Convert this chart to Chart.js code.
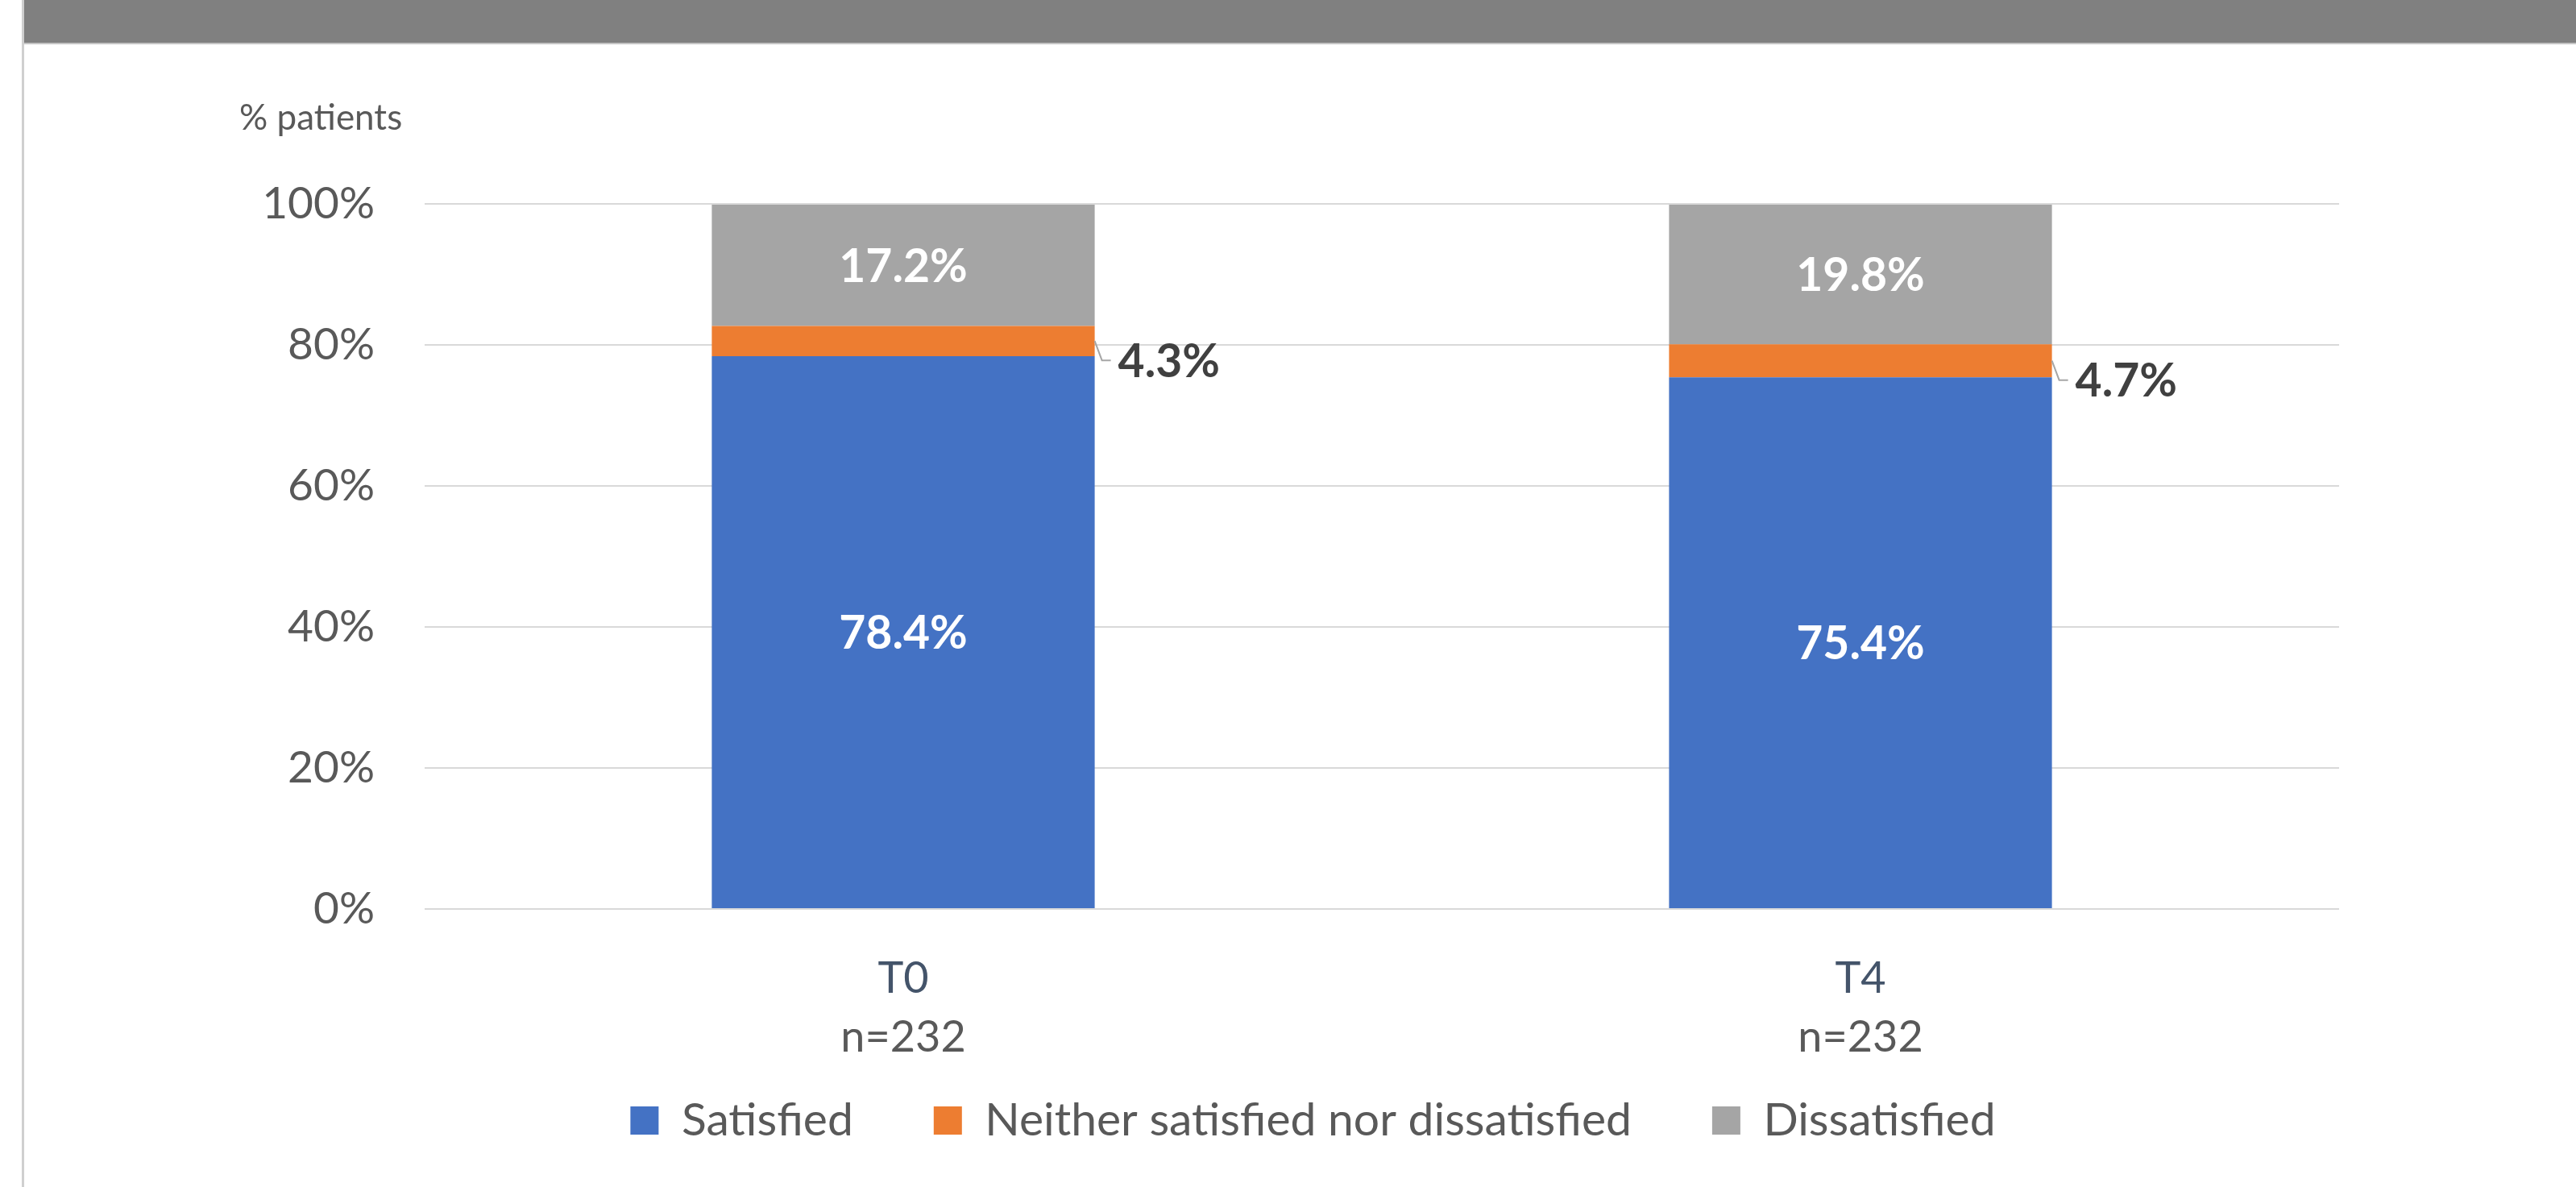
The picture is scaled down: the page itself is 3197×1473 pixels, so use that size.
<!DOCTYPE html>
<html>
<head>
<meta charset="utf-8">
<script src="https://cdn.jsdelivr.net/npm/chart.js@4.4.1/dist/chart.umd.min.js"></script>
<style>
  html, body { margin: 0; padding: 0; background: #ffffff; }
  #wrap { position: relative; width: 3197px; height: 1473px; }
  canvas { display: block; }
</style>
</head>
<body>
<div id="wrap"><canvas id="c" width="3197" height="1473"></canvas></div>
<script>
// ---- data ----
const categories = ['T0', 'T4'];
const sampleSizes = ['n=232', 'n=232'];
const seriesNames = ['Satisfied', 'Neither satisfied nor dissatisfied', 'Dissatisfied'];
const satisfied = [78.4, 75.4];
const neither = [4.3, 4.7];
const dissatisfied = [17.2, 19.8];
const yTickValues = [0, 20, 40, 60, 80, 100];
const yAxisLabel = '% patients';

const COLORS = ['#4472C4', '#ED7D31', '#A5A5A5'];
const FONT = 'Lato, "Open Sans", sans-serif';

const framePlugin = {
  id: 'frame',
  afterLayout(chart) {
    // Excel centres the legend on the whole chart box, shift it accordingly
    const lg = chart.legend;
    if (lg) { lg.left += 33; lg.right += 33; }
  },
  beforeDraw(chart) {
    const ctx = chart.ctx;
    ctx.save();
    ctx.fillStyle = '#ffffff';
    ctx.fillRect(0, 0, chart.width, chart.height);
    // top grey band
    ctx.fillStyle = '#808080';
    ctx.fillRect(30, 0, chart.width - 30, 53);
    ctx.fillStyle = '#c4c4c4';
    ctx.fillRect(30, 53, chart.width - 30, 2);
    // left border
    ctx.fillStyle = '#cfcfcf';
    ctx.fillRect(27, 0, 3, chart.height);
    ctx.restore();
  }
};

const labelPlugin = {
  id: 'labels',
  afterDatasetsDraw(chart) {
    const ctx = chart.ctx;
    ctx.save();
    ctx.font = 'bold 57px ' + FONT;
    chart.data.datasets.forEach((ds, di) => {
      const meta = chart.getDatasetMeta(di);
      meta.data.forEach((bar, i) => {
        const v = ds.data[i];
        const text = v.toFixed(1) + '%';
        const cy = (bar.y + bar.base) / 2;
        if (di === 1) {
          const right = bar.x + bar.width / 2;
          ctx.strokeStyle = '#a6a6a6';
          ctx.lineWidth = 2;
          ctx.beginPath();
          ctx.moveTo(right, cy);
          ctx.lineTo(right + 9, cy + 24);
          ctx.lineTo(right + 20, cy + 24);
          ctx.stroke();
          ctx.fillStyle = '#404040';
          ctx.textAlign = 'left';
          ctx.textBaseline = 'middle';
          ctx.fillText(text, right + 29, cy + 26);
        } else {
          ctx.fillStyle = '#ffffff';
          ctx.textAlign = 'center';
          ctx.textBaseline = 'middle';
          ctx.fillText(text, bar.x, cy + 2);
        }
      });
    });
    ctx.restore();
  },
  afterDraw(chart) {
    const ctx = chart.ctx;
    const xs = chart.scales.x;
    const area = chart.chartArea;
    ctx.save();
    // second line of category labels
    ctx.font = '54px ' + FONT;
    ctx.fillStyle = '#595959';
    ctx.textAlign = 'center';
    ctx.textBaseline = 'middle';
    sampleSizes.forEach((s, i) => {
      ctx.fillText(s, xs.getPixelForValue(i), area.bottom + 160);
    });
    // axis caption
    ctx.font = '44px ' + FONT;
    ctx.textAlign = 'left';
    ctx.fillText(yAxisLabel, area.left - 230, area.top - 106);
    ctx.restore();
  }
};

new Chart(document.getElementById('c'), {
  type: 'bar',
  data: {
    labels: categories,
    datasets: [
      { label: seriesNames[0], data: satisfied, backgroundColor: COLORS[0] },
      { label: seriesNames[1], data: neither, backgroundColor: COLORS[1] },
      { label: seriesNames[2], data: dissatisfied, backgroundColor: COLORS[2] }
    ]
  },
  options: {
    responsive: false,
    animation: false,
    devicePixelRatio: 1,
    layout: { padding: { left: 290, right: 294, top: 253, bottom: 44 } },
    datasets: { bar: { categoryPercentage: 1.0, barPercentage: 0.4, borderWidth: 0 } },
    scales: {
      x: {
        stacked: true,
        grid: { display: false },
        border: { display: false },
        ticks: { color: '#44546A', font: { family: FONT, size: 54 }, padding: 46 },
        afterFit(scale) { scale.height = 134; }
      },
      y: {
        stacked: true,
        min: 0,
        max: 100,
        afterBuildTicks(scale) { scale.ticks = yTickValues.map(v => ({ value: v })); },
        grid: { color: '#d9d9d9', lineWidth: 2, drawTicks: false },
        border: { display: false },
        ticks: {
          color: '#595959',
          font: { family: FONT, size: 55 },
          padding: 62,
          callback: v => v + '%'
        },
        afterFit(scale) { scale.width = 237; }
      }
    },
    plugins: {
      legend: {
        position: 'bottom',
        labels: {
          color: '#595959',
          font: { family: FONT, size: 57 },
          boxWidth: 35,
          boxHeight: 35,
          padding: 100
        }
      },
      tooltip: { enabled: false },
      title: { display: false }
    }
  },
  plugins: [framePlugin, labelPlugin]
});
</script>
</body>
</html>
